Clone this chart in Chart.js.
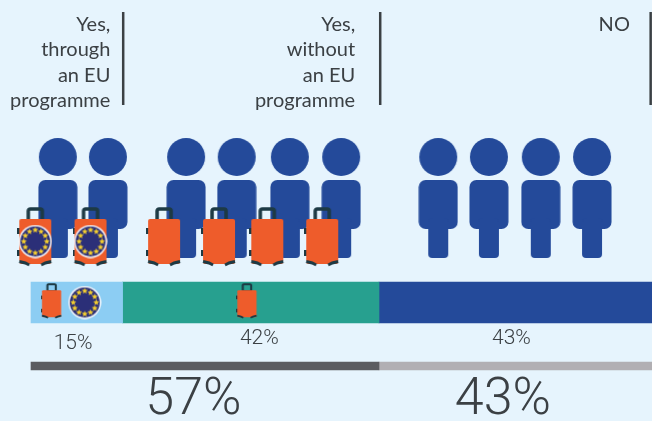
<!DOCTYPE html>
<html>
<head>
<meta charset="utf-8">
<script src="https://cdn.jsdelivr.net/npm/chart.js@4"></script>
<style>
  html, body { margin: 0; padding: 0; background: #e6f4fd; overflow: hidden; }
  canvas { display: block; }
</style>
</head>
<body>
<canvas id="chart" width="652" height="421"></canvas>
<script>
// shares, in % of respondents
const mainValues = [15, 42, 43];
const mainLabels = ['15%', '42%', '43%'];
const totalValues = [57, 43];
const totalLabels = ['57%', '43%'];
const answerLabels = [['Yes,', 'through', 'an EU', 'programme'], ['Yes,', 'without', 'an EU', 'programme'], ['NO']];

// where the icons sit along the share axis
const peopleAt = [4.4, 12.6, 25.4, 33.7, 42.4, 50.8, 66.7, 75, 83.5, 91.9];
const bagsAt = [0.7, 9.75, 21.8, 30.8, 38.7, 47.7];
const euBadgesAt = [0.7, 9.75];
const smallBagsAt = [3.4, 35.4];
const smallBadgesAt = [8.8];

// rows on the (hidden) vertical axis
const PEOPLE_ROW = 198;
const BAG_ROW = 237;
const BADGE_ROW = 241.5;
const MAIN_ROW = 302.5;
const SMALL_BAG_ROW = 301;
const TOTAL_ROW = 366;

const BLUE = '#244a9a';
const ORANGE = '#ee5c2b';
const HANDLE = '#1d3a44';
const TEXT = '#3b4044';

const makeIcon = (w, h, draw) => {
  const c = document.createElement('canvas');
  c.width = w;
  c.height = h;
  draw(c.getContext('2d'));
  return c;
};

const personIcon = makeIcon(40, 120, ctx => {
  ctx.fillStyle = BLUE;
  ctx.beginPath();
  ctx.arc(20, 19, 19, 0, Math.PI * 2);
  ctx.fill();
  ctx.beginPath();
  ctx.roundRect(0.5, 42, 39, 49, 7);
  ctx.fill();
  ctx.beginPath();
  ctx.roundRect(10, 80, 20, 40, 4);
  ctx.fill();
});

const drawBag = (ctx, s) => {
  ctx.save();
  ctx.scale(s, s);
  ctx.strokeStyle = HANDLE;
  ctx.lineWidth = 3.5;
  ctx.beginPath();
  ctx.roundRect(11, 2, 14, 12, 2);
  ctx.stroke();
  ctx.fillStyle = HANDLE;
  ctx.fillRect(0, 21, 3, 6);
  ctx.fillRect(0, 43, 3, 6);
  ctx.fillStyle = ORANGE;
  ctx.beginPath();
  ctx.roundRect(2, 12, 32, 45, 2);
  ctx.fill();
  // wheels hook round the two bottom corners
  ctx.strokeStyle = HANDLE;
  ctx.lineWidth = 3;
  ctx.beginPath();
  ctx.moveTo(2, 54.5);
  ctx.lineTo(8, 56);
  ctx.lineTo(12, 58);
  ctx.moveTo(34, 54.5);
  ctx.lineTo(28, 56);
  ctx.lineTo(24, 58);
  ctx.stroke();
  ctx.restore();
};

const bagIcon = makeIcon(36, 60, ctx => drawBag(ctx, 1));
const smallBagIcon = makeIcon(22, 36, ctx => drawBag(ctx, 0.6));

const badgeIcon = makeIcon(34, 34, ctx => {
  ctx.fillStyle = '#f4f6fa';
  ctx.beginPath();
  ctx.arc(17, 17, 16.5, 0, Math.PI * 2);
  ctx.fill();
  ctx.fillStyle = '#2b2f78';
  ctx.beginPath();
  ctx.arc(17, 17, 15, 0, Math.PI * 2);
  ctx.fill();
  ctx.fillStyle = '#f6d02f';
  for (let i = 0; i < 12; i++) {
    const a = i * Math.PI / 6;
    const cx = 17 + Math.cos(a) * 11.5;
    const cy = 17 + Math.sin(a) * 11.5;
    ctx.beginPath();
    for (let j = 0; j < 10; j++) {
      const r = j % 2 ? 1.4 : 3.2;
      const b = -Math.PI / 2 + j * Math.PI / 5;
      ctx.lineTo(cx + Math.cos(b) * r, cy + Math.sin(b) * r);
    }
    ctx.closePath();
    ctx.fill();
  }
});

const iconSet = (at, row, icon, order) => ({
  type: 'scatter',
  data: at.map(x => ({ x, y: row })),
  pointStyle: icon,
  pointRadius: 10,
  order
});

const barSegment = (value, row, color, thickness) => ({
  type: 'bar',
  indexAxis: 'y',
  data: [{ x: value, y: row }],
  backgroundColor: color,
  barThickness: thickness,
  grouped: false,
  order: 10
});

// labels and dividers, placed through the scales
const annotations = {
  id: 'annotations',
  afterDatasetsDraw(chart) {
    const { ctx, scales: { x, y } } = chart;
    ctx.save();
    ctx.fillStyle = TEXT;
    ctx.textBaseline = 'middle';

    ctx.textAlign = 'right';
    ctx.font = '400 20px Lato';
    const ends = [13, 53.1, 98.1];
    answerLabels.forEach((lines, i) => {
      lines.forEach((line, j) => ctx.fillText(line, x.getPixelForValue(ends[i]), y.getPixelForValue(24.5 + j * 25.3)));
    });

    ctx.strokeStyle = TEXT;
    ctx.lineWidth = 2.5;
    [15.1, 57.2, 101.5].forEach(v => {
      ctx.beginPath();
      ctx.moveTo(x.getPixelForValue(v), y.getPixelForValue(12));
      ctx.lineTo(x.getPixelForValue(v), y.getPixelForValue(105));
      ctx.stroke();
    });

    ctx.textAlign = 'center';
    ctx.font = '300 21px Roboto';
    const mainCentres = [6.9, 37.4, 78.7];
    const mainRows = [344, 339, 339];
    mainLabels.forEach((t, i) => ctx.fillText(t, x.getPixelForValue(mainCentres[i]), y.getPixelForValue(mainRows[i])));

    ctx.font = '300 52px Roboto';
    const totalCentres = [26.6, 77.3];
    totalLabels.forEach((t, i) => ctx.fillText(t, x.getPixelForValue(totalCentres[i]), y.getPixelForValue(401)));
    ctx.restore();
  }
};

new Chart(document.getElementById('chart'), {
  data: {
    datasets: [
      barSegment(mainValues[0], MAIN_ROW, '#8ccdf3', 41),
      barSegment(mainValues[1], MAIN_ROW, '#27a08f', 41),
      // the picture runs this segment off its right edge
      barSegment(mainValues[2] + 2, MAIN_ROW, BLUE, 41),
      barSegment(totalValues[0], TOTAL_ROW, '#5b5c60', 8),
      barSegment(totalValues[1] + 2, TOTAL_ROW, '#b1afb3', 8),
      iconSet(peopleAt, PEOPLE_ROW, personIcon, 5),
      iconSet(bagsAt, BAG_ROW, bagIcon, 4),
      iconSet(euBadgesAt, BADGE_ROW, badgeIcon, 3),
      iconSet(smallBagsAt, SMALL_BAG_ROW, smallBagIcon, 2),
      iconSet(smallBadgesAt, MAIN_ROW, badgeIcon, 1)
    ]
  },
  options: {
    responsive: false,
    devicePixelRatio: 1,
    animation: false,
    layout: { padding: 0, autoPadding: false },
    plugins: { legend: { display: false }, tooltip: { enabled: false } },
    scales: {
      x: { type: 'linear', display: false, stacked: true, min: -5.08, max: 101.72 },
      y: { type: 'linear', display: false, reverse: true, offset: false, min: 0, max: 421 }
    }
  },
  plugins: [annotations]
});
</script>
</body>
</html>
